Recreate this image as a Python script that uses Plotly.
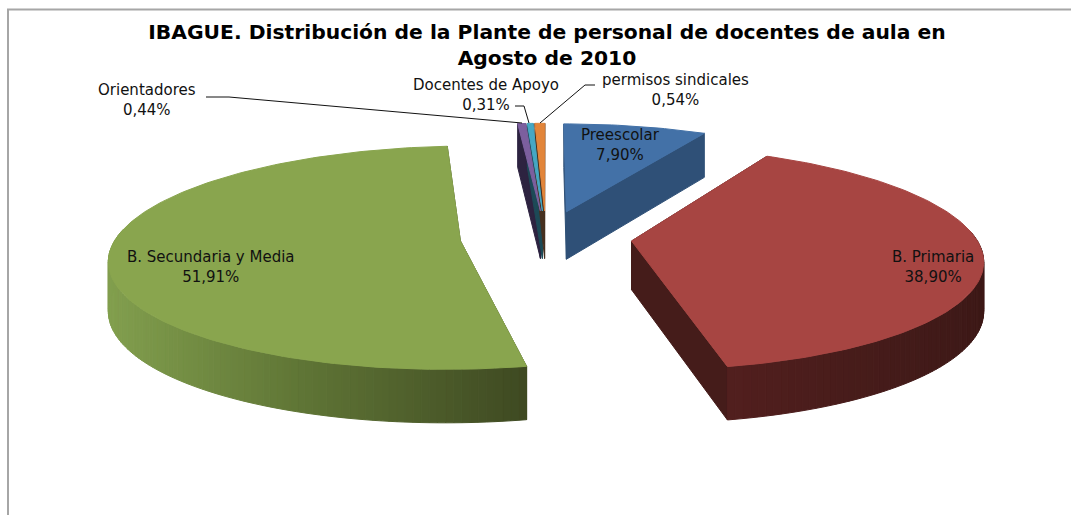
import math
import plotly.graph_objects as go

# ---- data ----
categories = ["Preescolar", "B. Primaria", "B. Secundaria y Media",
              "Orientadores", "Docentes de Apoyo", "permisos sindicales"]
values = [7.90, 38.90, 51.91, 0.44, 0.31, 0.54]
top_colors = ["#4371a7", "#a74542", "#89a54e", "#7c5f9e", "#45a7c3", "#e2853a"]
side_colors = ["#2f5077", "#451c1a", "#3f4a22", "#2d2340", "#1d4a57", "#46301f"]
rim_stops = {
    0: [(0, "#2f5077"), (1, "#2f5077")],
    1: [(725, "#521f1e"), (985, "#3d1917")],
    2: [(108, "#829f4e"), (300, "#607636"), (527, "#3f4a22")],
    3: [(0, "#2d2340"), (1, "#2d2340")],
    4: [(0, "#1d4a57"), (1, "#1d4a57")],
    5: [(0, "#46301f"), (1, "#46301f")],
}
title_text = "IBAGUE. Distribución de la Plante de personal de docentes de aula en<br>Agosto de 2010"

# ---- 3D projection of the exploded pie ----
CX, CY, RX, RY, K, EXPLODE, DEPTH, KD = 546, 237, 344, 108, 0.15, 0.25, 48.5, 0.09


def project(X, Z, down=False):
    s = 1 + K * Z
    x = CX + RX * X / s
    y = CY - RY * Z / s
    if down:
        y += DEPTH / (1 + KD * Z)
    return x, y


def hex_mix(stops, x):
    if x <= stops[0][0]:
        return stops[0][1]
    for (x0, c0), (x1, c1) in zip(stops, stops[1:]):
        if x <= x1:
            t = (x - x0) / (x1 - x0)
            a = [int(c0[i:i + 2], 16) for i in (1, 3, 5)]
            b = [int(c1[i:i + 2], 16) for i in (1, 3, 5)]
            return "rgb(%d,%d,%d)" % tuple(round(p + (q - p) * t) for p, q in zip(a, b))
    return stops[-1][1]


def poly(pts, color):
    return go.Scatter(x=[p[0] for p in pts] + [pts[0][0]], y=[p[1] for p in pts] + [pts[0][1]],
                      mode="lines", fill="toself", fillcolor=color,
                      line=dict(color=color, width=1), hoverinfo="skip", showlegend=False)


total = sum(values)
slices = []
a0 = 0.0
for i, v in enumerate(values):
    a1 = a0 + v / total * 2 * math.pi
    b = (a0 + a1) / 2
    ox, oz = EXPLODE * math.sin(b), EXPLODE * math.cos(b)
    n = max(3, int((a1 - a0) / 0.02))
    pts = [(ox + math.sin(a0 + (a1 - a0) * j / n), oz + math.cos(a0 + (a1 - a0) * j / n)) for j in range(n + 1)]
    slices.append(dict(i=i, apex=(ox, oz), rim=pts))
    a0 = a1

traces = []
# sides first, tops afterwards
for s in slices:
    i, apex, rim = s["i"], s["apex"], s["rim"]
    for corner in (rim[0], rim[-1]):
        traces.append(poly([project(*apex), project(*corner), project(*corner, True), project(*apex, True)],
                           side_colors[i]))
    for j in range(len(rim) - 1):
        p, q = rim[j], rim[j + 1]
        if (p[1] + q[1]) / 2 - apex[1] > 0.1:
            continue
        col = hex_mix(rim_stops[i], project(*p)[0])
        traces.append(poly([project(*p), project(*q), project(*q, True), project(*p, True)], col))
for s in slices:
    traces.append(poly([project(*s["apex"])] + [project(*p) for p in s["rim"]], top_colors[s["i"]]))

fig = go.Figure(traces)

# ---- labels ----
label_xy = [(620, 145), (933, 267), (211, 267), (147, 100), (486, 95), (675, 90)]
for name, v, (x, y) in zip(categories, values, label_xy):
    fig.add_annotation(x=x, y=y, xref="x", yref="y", showarrow=False, align="center",
                       text=f"{name}<br>" + f"{v:.2f}%".replace(".", ","),
                       font=dict(family="DejaVu Sans", size=15, color="#111111"))

# ---- leader lines and frame ----
leaders = [
    "M 206 97 L 229 97 L 522 123",
    "M 515 106 L 524 106 L 529 123",
    "M 595 85 L 585 85 L 540 123",
]
shapes = [dict(type="path", path=p, xref="x", yref="y", line=dict(color="#111111", width=1)) for p in leaders]
shapes.append(dict(type="path", path="M 8 515 L 8 9.5 L 1071 9.5", xref="x", yref="y",
                   line=dict(color="#a6a6a6", width=2)))

fig.update_layout(
    width=1071, height=515, margin=dict(l=0, r=0, t=0, b=0),
    paper_bgcolor="white", plot_bgcolor="white", showlegend=False,
    title=dict(text=title_text, x=547 / 1071, xanchor="center", y=0.925, yanchor="middle",
               font=dict(family="DejaVu Sans", size=20.3, color="#000000", weight="bold")),
    xaxis=dict(range=[0, 1071], visible=False, fixedrange=True),
    yaxis=dict(range=[515, 0], visible=False, fixedrange=True),
    shapes=shapes,
)
fig.write_html("out.html", config=dict(displayModeBar=False),
               post_script="document.body.style.margin='0';")
